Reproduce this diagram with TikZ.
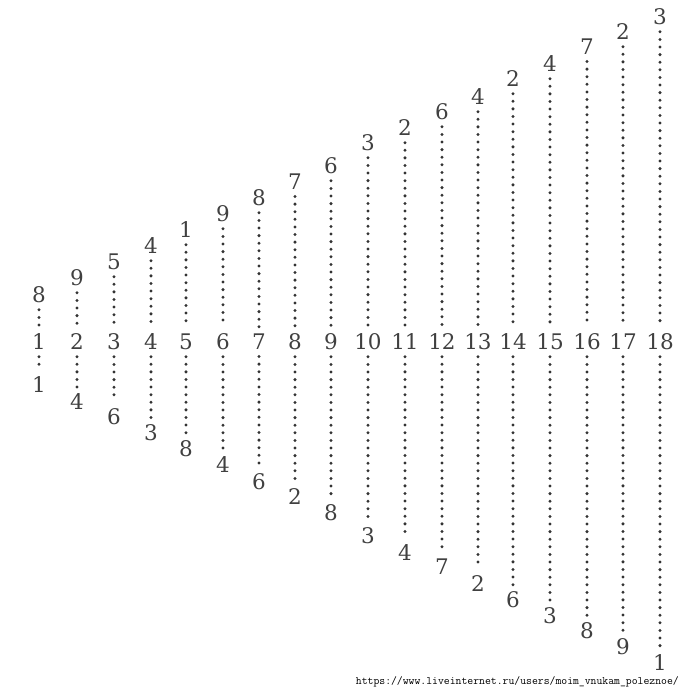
\documentclass[tikz,border=0pt]{standalone}
\usepackage{fontspec}
\usetikzlibrary{positioning}
\newfontfamily\digitfont{DejaVu Serif}

\tikzset{
  digit/.style={text=black!75, font=\digitfont\fontsize{21.5}{22}\selectfont, inner sep=1.5pt},
  dots/.style={black!80, line width=3.3pt, line cap=round, dash pattern=on 0pt off 7.6pt,
    shorten <=5pt, shorten >=5pt},
}

\begin{document}
\begin{tikzpicture}[x=1pt,y=-1pt]
  \useasboundingbox (0,0) rectangle (683,691);
  % column: number / x / top digit / y / bottom digit / y
  \foreach \n/\x/\t/\yt/\b/\yb in {
      1/39/8/295/1/385, 2/77/9/278/4/402, 3/114/5/262/6/417,
      4/151/4/246/3/433, 5/186/1/230/8/449, 6/223/9/214/4/465,
      7/259/8/198/6/482, 8/295/7/182/2/497, 9/331/6/166/8/513,
      10/368/3/143/3/536, 11/405/2/128/4/553, 12/442/6/112/7/567,
      13/478/4/97/2/584, 14/513/2/79/6/600, 15/550/4/64/3/616,
      16/587/7/47/8/631, 17/623/2/32/9/647, 18/660/3/17/1/663}{
    \node[digit] (m\n) at (\x,342) {\n};
    \node[digit] (t\n) at (\x,\yt) {\t};
    \node[digit] (b\n) at (\x,\yb) {\b};
    \draw[dots] (t\n.south) -- (m\n.north);
    \draw[dots] (m\n.south) -- (b\n.north);
  }
  \node[font=\ttfamily\fontsize{11.4}{12}\selectfont, anchor=east, inner sep=0pt] (url) at (679,682)
    {https://www.liveinternet.ru/users/moim\_vnukam\_poleznoe/};
\end{tikzpicture}
\end{document}
